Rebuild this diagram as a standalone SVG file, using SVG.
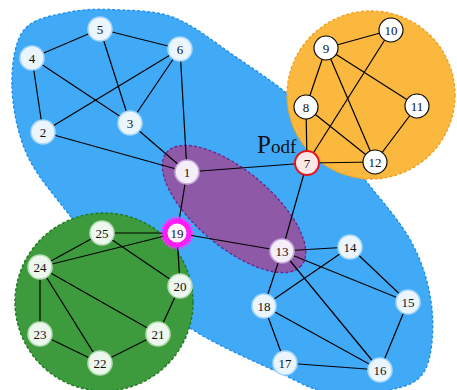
<svg xmlns="http://www.w3.org/2000/svg" width="457" height="390" viewBox="0 0 457 390">
  <style>
    .edge { stroke: #000; stroke-width: 1.2; fill: none; }
    .lbl { font-family: "Liberation Serif", "Times New Roman", serif; font-size: 13px; text-anchor: middle; fill: #111; }
    .nb { fill: #eaf5fe; stroke: #a6d6fb; stroke-width: 1.6; }
    .no { fill: #ffffff; stroke: #000; stroke-width: 1.1; }
    .ng { fill: #eef7ee; stroke: #b4dcb4; stroke-width: 1.6; }
    .np { fill: #f4eef8; stroke: #c3a6d8; stroke-width: 1.6; }
    .region { stroke-width: 1.4; stroke-dasharray: 3 2; }
  </style>

  <!-- community regions -->
  <g id="regions">
    <path id="region-blue" class="region" fill="#40aaf7" stroke="#1f8fef"
      d="M12,85 C11.83,65 14.33,42.17 24,30 C33.67,17.83 54,15.33 70,12 C86,8.67 102.5,9 120,10 C137.5,11 156.17,10.5 175,18 C193.83,25.5 212.17,40.5 233,55 C253.83,69.5 278,84.17 300,105 C322,125.83 346.17,156.67 365,180 C383.83,203.33 401.83,223.33 413,245 C424.17,266.67 430,289.17 432,310 C434,330.83 432,356.67 425,370 C418,383.33 405.83,386.17 390,390 C374.17,393.830 348.33,395.83 330,393 C311.67,390.17 303.33,383.83 280,373 C256.67,362.17 217.5,346 190,328 C162.5,310 136.67,285.83 115,265 C93.33,244.17 75,222.17 60,203 C45,183.83 33,169.67 25,150 C17,130.33 12.17,105 12,85 Z"/>
    <circle id="region-orange" class="region" cx="371" cy="95" r="84" fill="#fbb83e" stroke="#f0a020"/>
    <circle id="region-green" class="region" cx="104" cy="302" r="89" fill="#3d9a3d" stroke="#1d7a1d"/>
    <ellipse id="region-purple" class="region" cx="234" cy="209" rx="88" ry="38" transform="rotate(40 234 209)" fill="#8e5aa8" stroke="#6a2a8c"/>
  </g>

  <!-- connectors -->
  <g id="edges" class="edge">
    <line x1="100" y1="29" x2="32" y2="58"/>
    <line x1="100" y1="29" x2="180" y2="49"/>
    <line x1="100" y1="29" x2="130" y2="123"/>
    <line x1="32" y1="58" x2="130" y2="123"/>
    <line x1="32" y1="58" x2="43" y2="132"/>
    <line x1="180" y1="49" x2="43" y2="132"/>
    <line x1="180" y1="49" x2="130" y2="123"/>
    <line x1="180" y1="49" x2="187" y2="172"/>
    <line x1="43" y1="132" x2="187" y2="172"/>
    <line x1="130" y1="123" x2="187" y2="172"/>
    <line x1="187" y1="172" x2="307" y2="163"/>
    <line x1="187" y1="172" x2="177" y2="233"/>
    <line x1="307" y1="163" x2="306" y2="107"/>
    <line x1="307" y1="163" x2="391" y2="30"/>
    <line x1="307" y1="163" x2="375" y2="162"/>
    <line x1="307" y1="163" x2="282" y2="251"/>
    <line x1="306" y1="107" x2="326" y2="48"/>
    <line x1="306" y1="107" x2="375" y2="162"/>
    <line x1="326" y1="48" x2="391" y2="30"/>
    <line x1="326" y1="48" x2="417" y2="106"/>
    <line x1="326" y1="48" x2="375" y2="162"/>
    <line x1="417" y1="106" x2="375" y2="162"/>
    <line x1="177" y1="233" x2="102" y2="233"/>
    <line x1="177" y1="233" x2="40" y2="267"/>
    <line x1="177" y1="233" x2="180" y2="286"/>
    <line x1="177" y1="233" x2="282" y2="251"/>
    <line x1="102" y1="233" x2="40" y2="267"/>
    <line x1="102" y1="233" x2="180" y2="286"/>
    <line x1="40" y1="267" x2="40" y2="334"/>
    <line x1="40" y1="267" x2="100" y2="363"/>
    <line x1="40" y1="267" x2="158" y2="334"/>
    <line x1="40" y1="334" x2="100" y2="363"/>
    <line x1="100" y1="363" x2="158" y2="334"/>
    <line x1="158" y1="334" x2="180" y2="286"/>
    <line x1="282" y1="251" x2="350" y2="247"/>
    <line x1="282" y1="251" x2="408" y2="302"/>
    <line x1="282" y1="251" x2="380" y2="370"/>
    <line x1="282" y1="251" x2="264" y2="306"/>
    <line x1="350" y1="247" x2="264" y2="306"/>
    <line x1="350" y1="247" x2="408" y2="302"/>
    <line x1="408" y1="302" x2="380" y2="370"/>
    <line x1="264" y1="306" x2="380" y2="370"/>
    <line x1="264" y1="306" x2="285" y2="363"/>
    <line x1="285" y1="363" x2="380" y2="370"/>
  </g>

  <!-- nodes -->
  <g id="n1"><circle class="np" cx="187" cy="172" r="12"/><text class="lbl" x="187" y="176.5">1</text></g>
  <g id="n2"><circle class="nb" cx="43" cy="132" r="12"/><text class="lbl" x="43" y="136.5">2</text></g>
  <g id="n3"><circle class="nb" cx="130" cy="123" r="12"/><text class="lbl" x="130" y="127.5">3</text></g>
  <g id="n4"><circle class="nb" cx="32" cy="58" r="12"/><text class="lbl" x="32" y="62.5">4</text></g>
  <g id="n5"><circle class="nb" cx="100" cy="29" r="12"/><text class="lbl" x="100" y="33.5">5</text></g>
  <g id="n6"><circle class="nb" cx="180" cy="49" r="12"/><text class="lbl" x="180" y="53.5">6</text></g>
  <g id="n7"><circle cx="307" cy="163" r="12" fill="#fde8e8" stroke="#e8141c" stroke-width="2"/><text class="lbl" x="307" y="167.5">7</text></g>
  <g id="n8"><circle class="no" cx="306" cy="107" r="12"/><text class="lbl" x="306" y="111.5">8</text></g>
  <g id="n9"><circle class="no" cx="326" cy="48" r="12"/><text class="lbl" x="326" y="52.5">9</text></g>
  <g id="n10"><circle class="no" cx="391" cy="30" r="12"/><text class="lbl" x="391" y="34.5">10</text></g>
  <g id="n11"><circle class="no" cx="417" cy="106" r="12"/><text class="lbl" x="417" y="110.5">11</text></g>
  <g id="n12"><circle class="no" cx="375" cy="162" r="12"/><text class="lbl" x="375" y="166.5">12</text></g>
  <g id="n13"><circle class="np" cx="282" cy="251" r="12"/><text class="lbl" x="282" y="255.5">13</text></g>
  <g id="n14"><circle class="nb" cx="350" cy="247" r="12"/><text class="lbl" x="350" y="251.5">14</text></g>
  <g id="n15"><circle class="nb" cx="408" cy="302" r="12"/><text class="lbl" x="408" y="306.5">15</text></g>
  <g id="n16"><circle class="nb" cx="380" cy="370" r="12"/><text class="lbl" x="380" y="374.5">16</text></g>
  <g id="n17"><circle class="nb" cx="285" cy="363" r="12"/><text class="lbl" x="285" y="367.5">17</text></g>
  <g id="n18"><circle class="nb" cx="264" cy="306" r="12"/><text class="lbl" x="264" y="310.5">18</text></g>
  <g id="n19">
    <circle cx="177" cy="233" r="15.5" fill="none" stroke="#ff3cff" stroke-width="2" stroke-dasharray="2 1.5"/>
    <circle cx="177" cy="233" r="12" fill="#fff4fd" stroke="#ff1cf5" stroke-width="5"/>
    <text class="lbl" x="177" y="237.5">19</text>
  </g>
  <g id="n20"><circle class="ng" cx="180" cy="286" r="12"/><text class="lbl" x="180" y="290.5">20</text></g>
  <g id="n21"><circle class="ng" cx="158" cy="334" r="12"/><text class="lbl" x="158" y="338.5">21</text></g>
  <g id="n22"><circle class="ng" cx="100" cy="363" r="12"/><text class="lbl" x="100" y="367.5">22</text></g>
  <g id="n23"><circle class="ng" cx="40" cy="334" r="12"/><text class="lbl" x="40" y="338.5">23</text></g>
  <g id="n24"><circle class="ng" cx="40" cy="267" r="12"/><text class="lbl" x="40" y="271.5">24</text></g>
  <g id="n25"><circle class="ng" cx="102" cy="233" r="12"/><text class="lbl" x="102" y="237.5">25</text></g>

  <!-- label for node 7 -->
  <text id="podf" x="257" y="153" font-family="Liberation Serif, 'Times New Roman', serif" fill="#111"><tspan font-size="25">P</tspan><tspan font-size="19">odf</tspan></text>
</svg>
